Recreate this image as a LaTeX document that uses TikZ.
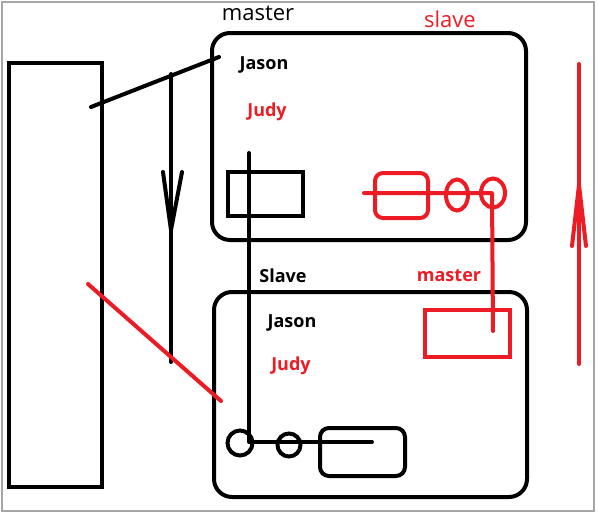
\documentclass[tikz,border=0pt]{standalone}
\usepackage{fontspec}
\setmainfont{Open Sans}
\usetikzlibrary{shapes.geometric}
\definecolor{pred}{RGB}{237,28,36}
\begin{document}
\begin{tikzpicture}[x=1pt,y=-1pt,
  ink/.style={line width=4pt,line cap=round,line join=round},
  redink/.style={ink,draw=pred},
  lbl/.style={inner sep=0pt,font=\bfseries\fontsize{18}{18}\selectfont},
  lblred/.style={lbl,text=pred},
  panel/.style={draw,line width=4pt,rounded corners=18pt,inner sep=0pt}]
\useasboundingbox (0,0) rectangle (598,514);
\draw[gray!70,line width=2pt] (2,2) rectangle (594,511);
% tall left block
\node[draw,line width=4pt,inner sep=0pt,minimum width=93pt,minimum height=424pt] (tall) at (55.5,275) {};
% panels
\node[panel,minimum width=314pt,minimum height=207pt] (upper) at (369,136.5) {};
\node[panel,minimum width=313pt,minimum height=205pt] (lower) at (370.5,394.5) {};
% labels
\node[inner sep=0pt,font=\fontsize{22}{22}\selectfont] (m1) at (258,13) {master};
\node[inner sep=0pt,text=pred,font=\fontsize{22}{22}\selectfont] (s1) at (450,19) {slave};
\node[lbl] (j1) at (264,65) {Jason};
\node[lblred] (u1) at (267,112) {Judy};
\node[lbl] (s2) at (283,276) {Slave};
\node[lbl] (j2) at (292,323) {Jason};
\node[lblred] (u2) at (291,366) {Judy};
\node[lblred] (m2) at (449,276) {master};
% black mechanism
\coordinate (da) at (91,107);
\coordinate (db) at (219,57);
\draw[ink] (da) -- (db);
\coordinate (vtop) at (171,74);
\coordinate (vbot) at (171,362);
\coordinate (vtip) at (171,230);
\draw[ink] (vtop) -- (vbot);
\draw[ink] (163,172) -- (vtip) -- (182,172);
\node[draw,line width=4pt,inner sep=0pt,minimum width=75pt,minimum height=44pt] (brect) at (265.5,194) {};
\node[draw,circle,line width=4pt,inner sep=0pt,minimum size=25pt] (c1) at (240,443) {};
\node[draw,circle,line width=4pt,inner sep=0pt,minimum size=23pt] (c2) at (289,445) {};
\node[draw,line width=4pt,rounded corners=9pt,inner sep=0pt,minimum width=85pt,minimum height=48pt] (brr) at (362.5,452) {};
\coordinate (rodtop) at (249,153);
\coordinate (rodend) at (372,442);
\draw[ink] (rodtop) -- (249,442) -- (rodend);
% red mechanism
\node[draw=pred,line width=4pt,rounded corners=8pt,inner sep=0pt,minimum width=53pt,minimum height=45pt] (rrr) at (401.5,195.5) {};
\node[draw=pred,ellipse,line width=4pt,inner sep=0pt,minimum width=22pt,minimum height=31pt] (e1) at (457,195) {};
\node[draw=pred,ellipse,line width=4pt,inner sep=0pt,minimum width=24pt,minimum height=29pt] (e2) at (493,193) {};
\node[draw=pred,line width=4pt,inner sep=0pt,minimum width=85pt,minimum height=47pt] (rrect) at (467.5,333.5) {};
\coordinate (rs) at (364,193);
\coordinate (rk) at (492,193);
\coordinate (rend) at (493,331);
\draw[redink] (rs) -- (rk) -- (rend);
\coordinate (ra) at (88,284);
\coordinate (rb) at (221,401);
\draw[redink] (ra) -- (rb);
\coordinate (utop) at (579,64);
\coordinate (ubot) at (579,364);
\coordinate (utip) at (579,185);
\draw[redink] (utop) -- (ubot);
\draw[redink] (572,246) -- (utip) -- (586,246);
\end{tikzpicture}
\end{document}
